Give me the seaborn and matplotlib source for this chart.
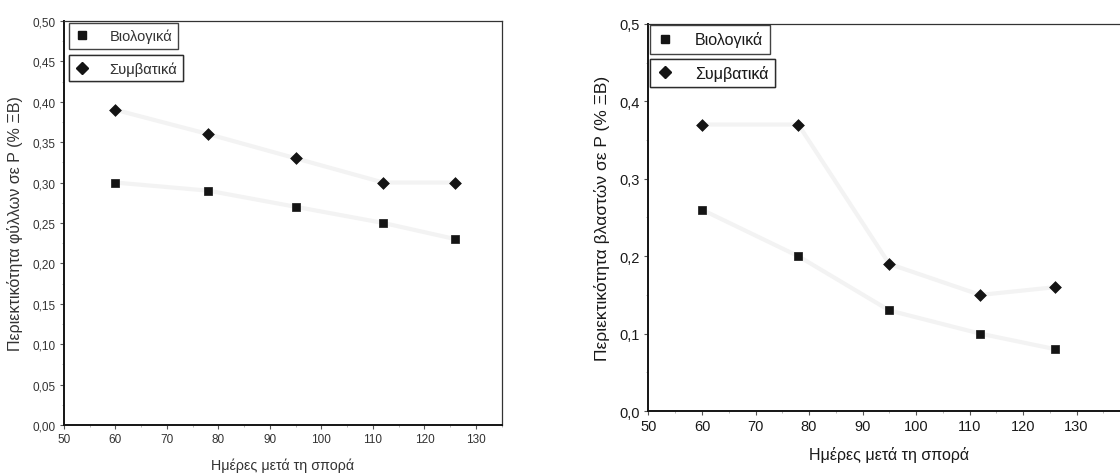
import numpy as np
import pandas as pd
import seaborn as sns
import matplotlib.pyplot as plt
from matplotlib.lines import Line2D
from matplotlib.ticker import MultipleLocator, FixedLocator, FuncFormatter

# days after sowing
days = [60, 78, 95, 112, 126]
series_names = ['Βιολογικά', 'Συμβατικά']

# leaf P content (% DW)
leaf_bio = [0.30, 0.29, 0.27, 0.25, 0.23]
leaf_conv = [0.39, 0.36, 0.33, 0.30, 0.30]

# shoot P content (% DW)
shoot_bio = [0.26, 0.20, 0.13, 0.10, 0.08]
shoot_conv = [0.37, 0.37, 0.19, 0.15, 0.16]

xticks = [50, 60, 70, 80, 90, 100, 110, 120, 130]
xlabel = 'Ημέρες μετά τη σπορά'
ylabel_left = 'Περιεκτικότητα φύλλων σε P (% ΞΒ)'
ylabel_right = 'Περιεκτικότητα βλαστών σε P (% ΞΒ)'

sns.set_theme(style='white')
plt.rcParams['font.family'] = ['Liberation Sans', 'DejaVu Sans']

INK = '#141414'
markers = {'Βιολογικά': 's', 'Συμβατικά': 'D'}
sizes = {'Βιολογικά': 32, 'Συμβατικά': 36}


def make_df(bio, conv):
    return pd.DataFrame({
        'day': days * 2,
        'value': bio + conv,
        'series': [series_names[0]] * len(days) + [series_names[1]] * len(days),
    })


def draw_panel(ax, df, ymajor, fmt, ylabel, legend_pos, fs, label_color):
    # faint trend lines behind the points
    for name in series_names:
        sub = df[df['series'] == name]
        sns.lineplot(data=sub, x='day', y='value', ax=ax, color='#f3f3f3',
                     lw=3, zorder=1, legend=False)
    for name in series_names:
        sub = df[df['series'] == name]
        sns.scatterplot(data=sub, x='day', y='value', ax=ax, marker=markers[name],
                        s=sizes[name], color=INK, edgecolor=INK, linewidth=0.5,
                        zorder=3, legend=False)

    ax.set_ylim(0, 0.5)
    ax.yaxis.set_major_locator(MultipleLocator(ymajor))
    ax.yaxis.set_minor_locator(MultipleLocator(ymajor / 2))
    ax.xaxis.set_major_locator(FixedLocator(xticks))
    ax.xaxis.set_minor_locator(MultipleLocator(5))
    ax.yaxis.set_major_formatter(FuncFormatter(lambda v, p: fmt.format(v).replace('.', ',')))
    ax.tick_params(which='major', direction='out', length=3, width=0.8, color='#555',
                   labelsize=fs['tick'], labelcolor=label_color, left=True, bottom=True, pad=3)
    ax.tick_params(which='minor', direction='out', length=1.5, width=0.6, color='#aaa',
                   left=True, bottom=True)
    ax.set_xlabel(xlabel, fontsize=fs['xlabel'], color=label_color, labelpad=9)
    ax.set_ylabel(ylabel, fontsize=fs['ylabel'], color=label_color, labelpad=7)
    for side in ['left', 'bottom']:
        ax.spines[side].set_linewidth(1.4)
        ax.spines[side].set_color(INK)
    for side in ['top', 'right']:
        ax.spines[side].set_linewidth(0.9)
        ax.spines[side].set_color('#333')

    # two separate legend boxes stacked at upper left
    for i, name in enumerate(series_names):
        h = Line2D([], [], marker=markers[name], ls='none', color=INK,
                   markersize=5.5 if name == 'Βιολογικά' else 6.5)
        leg = ax.legend(handles=[h], labels=[name], loc='upper left',
                        bbox_to_anchor=(legend_pos[0], legend_pos[1][i]),
                        frameon=True, fancybox=False, fontsize=fs['legend'],
                        handletextpad=1.4, borderpad=0.4, handlelength=1.0,
                        borderaxespad=0)
        leg.get_frame().set_edgecolor(INK)
        leg.get_frame().set_linewidth(1.0)
        for t in leg.get_texts():
            t.set_color(label_color)
        ax.add_artist(leg)


fig = plt.figure(figsize=(11.2, 4.77), dpi=100)
ax1 = fig.add_axes([0.057, 0.107, 0.391, 0.847])
ax2 = fig.add_axes([0.579, 0.136, 0.43, 0.812])

draw_panel(ax1, make_df(leaf_bio, leaf_conv), 0.05, '{:.2f}', ylabel_left,
           (0.011, [0.995, 0.915]),
           {'tick': 8.5, 'xlabel': 10.3, 'ylabel': 11.5, 'legend': 10.5}, '#333333')
ax1.set_xlim(50, 135)

draw_panel(ax2, make_df(shoot_bio, shoot_conv), 0.1, '{:.1f}', ylabel_right,
           (0.004, [0.997, 0.91]),
           {'tick': 10.5, 'xlabel': 11.5, 'ylabel': 12.5, 'legend': 11.5}, '#1a1a1a')
ax2.set_xlim(50, 140)

fig.savefig('out.png', dpi=100)
